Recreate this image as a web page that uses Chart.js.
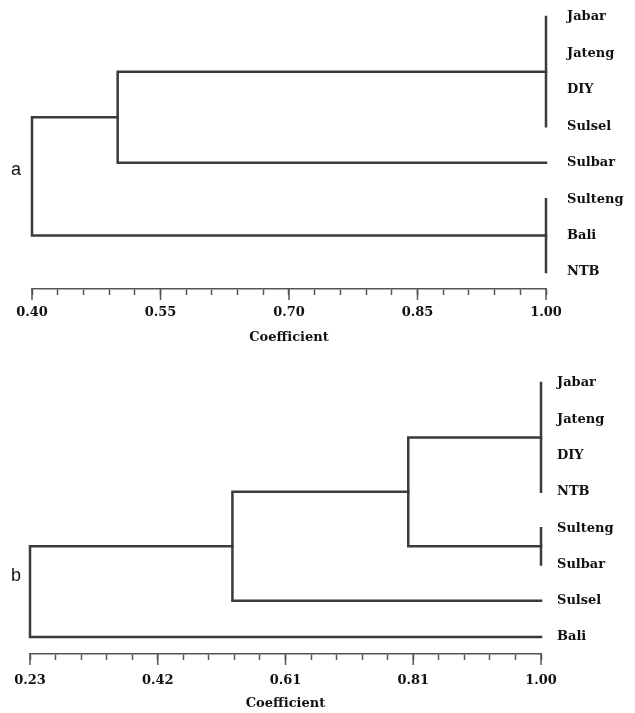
<!DOCTYPE html>
<html>
<head>
<meta charset="utf-8">
<script src="https://cdn.jsdelivr.net/npm/chart.js@4.4.1/dist/chart.umd.min.js"></script>
<style>
  html,body{margin:0;padding:0;background:#fff;}
  body{width:635px;height:713px;position:relative;overflow:hidden;}
  .box{position:absolute;left:0;width:635px;}
  #boxA{top:0;height:350px;}
  #boxB{top:355px;height:358px;}
  .tag{position:absolute;left:11px;font:18px "Liberation Sans",Arial,sans-serif;color:#111;}
</style>
</head>
<body>
<div class="box" id="boxA"><canvas id="chartA"></canvas></div>
<div class="box" id="boxB"><canvas id="chartB"></canvas></div>
<div class="tag" style="top:159px">a</div>
<div class="tag" style="top:565px">b</div>
<script>
// ---- data: dendrogram a ----
const leavesA = ["Jabar", "Jateng", "DIY", "Sulsel", "Sulbar", "Sulteng", "Bali", "NTB"];
const nodeKidsA = [["Jabar", "Jateng", "DIY", "Sulsel"], ["Sulteng", "Bali", "NTB"], ["n0", "Sulbar"], ["n2", "n1"]];
const nodeCoefA = [1.00, 1.00, 0.50, 0.40];
const tickLabelsA = ["0.40", "0.55", "0.70", "0.85", "1.00"];

// ---- data: dendrogram b ----
const leavesB = ["Jabar", "Jateng", "DIY", "NTB", "Sulteng", "Sulbar", "Sulsel", "Bali"];
const nodeKidsB = [["Jabar", "Jateng", "DIY", "NTB"], ["Sulteng", "Sulbar"], ["n0", "n1"], ["n2", "Sulsel"], ["n3", "Bali"]];
const nodeCoefB = [1.00, 1.00, 0.80, 0.535, 0.23];
const tickLabelsB = ["0.23", "0.42", "0.61", "0.81", "1.00"];

const FONT = '"DejaVu Serif","Liberation Serif",serif';
const LINE = "#3a3a3a";
const AXIS = "#555";

// turn merges into bracket polylines (leaves sit at coefficient 1.00)
function buildSegments(leaves, kids, coefs){
  const pos = {};
  leaves.forEach((n, i) => pos[n] = { x: 1.0, y: i });
  const segs = [];
  kids.forEach((ch, k) => {
    const c = coefs[k];
    const pts = ch.map(n => pos[n]).sort((a, b) => a.y - b.y);
    const first = pts[0], last = pts[pts.length - 1];
    segs.push([{ x: first.x, y: first.y }, { x: c, y: first.y }, { x: c, y: last.y }, { x: last.x, y: last.y }]);
    pts.slice(1, -1).forEach(p => { if (p.x !== c) segs.push([{ x: p.x, y: p.y }, { x: c, y: p.y }]); });
    pos["n" + k] = { x: c, y: (first.y + last.y) / 2 };
  });
  return segs;
}

// longer marks on the labelled ticks
const majorTicks = {
  id: "majorTicks",
  afterDraw(chart){
    const s = chart.scales.x, ctx = chart.ctx;
    ctx.save(); ctx.strokeStyle = AXIS; ctx.lineWidth = 1.5;
    s.ticks.forEach((t, i) => {
      if (i % 5) return;
      const px = s.getPixelForValue(t.value);
      ctx.beginPath(); ctx.moveTo(px, s.top); ctx.lineTo(px, s.top + 11); ctx.stroke();
    });
    ctx.restore();
  }
};

function dendro(id, cfg){
  const segs = buildSegments(cfg.leaves, cfg.kids, cfg.coefs);
  const tickVals = [];
  for (let i = 0; i <= 20; i++) tickVals.push(+(cfg.xmin + i * (cfg.xmax - cfg.xmin) / 20).toFixed(4));
  return new Chart(document.getElementById(id), {
    type: "scatter",
    data: {
      datasets: segs.map(s => ({
        data: s, showLine: true, pointRadius: 0, borderColor: LINE, borderWidth: 2.5,
        borderCapStyle: "square", borderJoinStyle: "miter", clip: false
      }))
    },
    options: {
      responsive: true, maintainAspectRatio: false, animation: false,
      layout: { padding: { top: 10, left: cfg.left, right: 0, bottom: 0 } },
      plugins: { legend: { display: false }, tooltip: { enabled: false } },
      scales: {
        x: {
          type: "linear", min: cfg.xmin, max: cfg.xmax,
          afterBuildTicks: s => { s.ticks = tickVals.map(v => ({ value: v })); },
          afterFit: s => { s.height = cfg.axisH; },
          ticks: {
            autoSkip: false, maxRotation: 0, padding: cfg.tickPad, color: "#111",
            font: { family: FONT, size: 13, weight: "bold" },
            callback: (v, i) => i % 5 === 0 ? cfg.tickLabels[i / 5] : ""
          },
          grid: { drawOnChartArea: false, drawTicks: true, tickLength: 6, tickColor: AXIS, tickWidth: 1.5 },
          border: { display: true, color: AXIS, width: 1.5 },
          title: {
            display: true, text: "Coefficient", color: "#111",
            font: { family: FONT, size: 13, weight: "bold" },
            padding: { top: 2, bottom: cfg.titlePad }
          }
        },
        y: {
          type: "linear", position: "right", reverse: true, min: cfg.ymin, max: cfg.ymax,
          afterBuildTicks: s => { s.ticks = cfg.leaves.map((_, i) => ({ value: i })); },
          afterFit: s => { s.width = 635 - cfg.right; s.paddingTop = 0; s.paddingBottom = 0; },
          ticks: {
            autoSkip: false, padding: cfg.labelGap, color: "#111",
            font: { family: FONT, size: 13, weight: "bold" },
            callback: (v, i) => cfg.leaves[i]
          },
          grid: { display: false, drawTicks: false },
          border: { display: false }
        }
      }
    },
    plugins: [majorTicks]
  });
}

dendro("chartA", {
  leaves: leavesA, kids: nodeKidsA, coefs: nodeCoefA, tickLabels: tickLabelsA,
  xmin: 0.40, xmax: 1.00, left: 32, right: 546, axisH: 61,
  ymin: -0.192, ymax: 7.467, tickPad: 10, titlePad: 5, labelGap: 21
});
dendro("chartB", {
  leaves: leavesB, kids: nodeKidsB, coefs: nodeCoefB, tickLabels: tickLabelsB,
  xmin: 0.23, xmax: 1.00, left: 30, right: 541, axisH: 59,
  ymin: -0.496, ymax: 7.468, tickPad: 13, titlePad: 2, labelGap: 16
});
</script>
</body>
</html>
